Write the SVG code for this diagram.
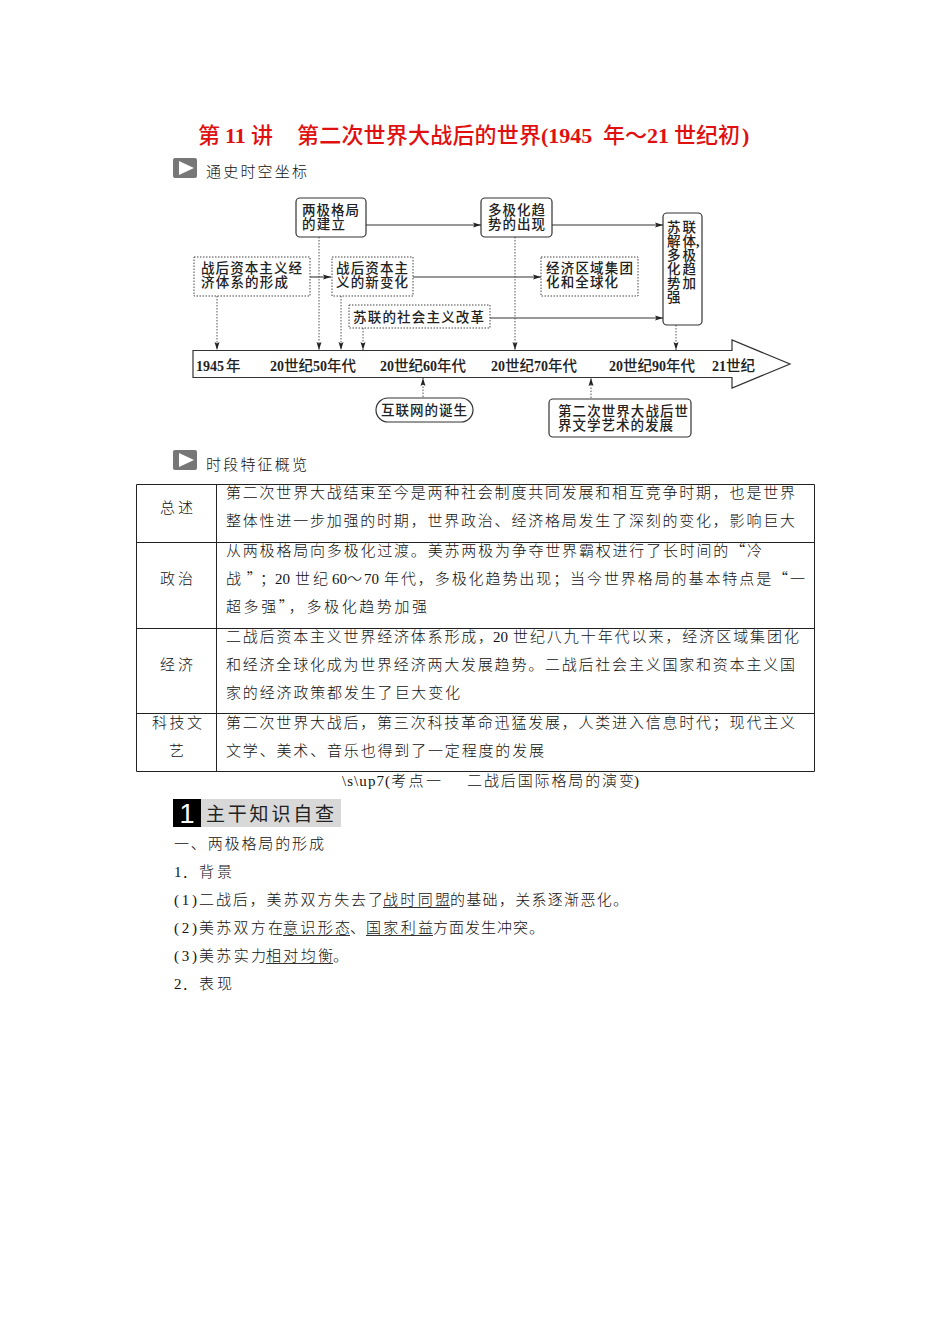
<svg xmlns="http://www.w3.org/2000/svg" width="950" height="1344" viewBox="0 0 950 1344">
<style>
text{font-family:"Noto Sans CJK SC",sans-serif;fill:#222}
.t{font-size:15px;font-weight:300;fill:#111}
.d{font-size:13.500px;font-weight:500;fill:#222}
.y{font-size:14.500px;font-weight:500;fill:#222}
.l{font-family:"Liberation Serif","Noto Sans CJK SC",serif}
.dl{font-family:"Liberation Serif","Noto Sans CJK SC",serif;font-size:14px;font-weight:700;fill:#222}
.h{font-size:22px;font-weight:500;fill:#e01010}
.hl{font-family:"Liberation Serif","Noto Sans CJK SC",serif;font-size:22px;font-weight:700;fill:#e01010}
.box{fill:#fff;stroke:#333;stroke-width:1.2}
.dot{fill:#fff;stroke:#444;stroke-width:1;stroke-dasharray:1.5 1.5}
.solid{fill:none;stroke:#333;stroke-width:1.1}
.dash{fill:none;stroke:#555;stroke-width:1;stroke-dasharray:1.5 1.5}
.grid{stroke:#222;stroke-width:1;fill:none}
.u{stroke:#333;stroke-width:1}
</style>
<defs>
<marker id="a" markerWidth="9" markerHeight="6" refX="8" refY="3" orient="auto" markerUnits="userSpaceOnUse"><path d="M0 .5L8 3L0 5.500L1.500 3Z" fill="#222"/></marker>
</defs>
<rect width="950" height="1344" fill="#fff"/>
<g id="title">
<text class="h" x="198" y="143">第</text><text class="hl" x="225" y="143">11</text><text class="h" x="251" y="143">讲</text>
<text class="h" x="297" y="143" textLength="244">第二次世界大战后的世界</text>
<text class="hl" x="541" y="143">(1945</text>
<text class="h" x="603" y="143" textLength="44">年～</text>
<text class="hl" x="647" y="143">21</text>
<text class="h" x="674" y="143" textLength="66">世纪初</text>
<text class="hl" x="742" y="143">)</text>
</g>
<g id="head1"><rect x="173" y="158" width="24" height="20" rx="2" fill="#777"/><path d="M179 161L194 168L179 175Z" fill="#fff"/><text class="t" x="206" y="177" textLength="101">通史时空坐标</text></g>
<g id="connectors">
<path class="solid" marker-end="url(#a)" d="M366 225H481"/>
<path class="solid" marker-end="url(#a)" d="M552 225H663"/>
<path class="solid" marker-end="url(#a)" d="M310 277H331"/>
<path class="solid" marker-end="url(#a)" d="M413 277H541"/>
<path class="solid" marker-end="url(#a)" d="M490 318H663"/>
<path class="dash" marker-end="url(#a)" d="M217 296V350"/>
<path class="dash" marker-end="url(#a)" d="M319 237V350"/>
<path class="dash" marker-end="url(#a)" d="M341 296V350"/>
<path class="dash" marker-end="url(#a)" d="M363 328V350"/>
<path class="dash" marker-end="url(#a)" d="M515 237V350"/>
<path class="dash" marker-end="url(#a)" d="M676 325V350"/>
<path class="dash" marker-end="url(#a)" d="M423 397V378"/>
<path class="dash" marker-end="url(#a)" d="M591 398V378"/>
</g>
<g id="timeline"><path d="M193 350.500H732V340L790 364L732 388V377.500H193Z" fill="#fff" stroke="#333" stroke-width="1.200"/>
<text class="dl" x="196" y="371">1945</text><text class="y" x="226" y="371">年</text>
<text class="dl" x="270" y="371">20</text><text class="y" x="284" y="371">世纪</text><text class="dl" x="313" y="371">50</text><text class="y" x="327" y="371">年代</text>
<text class="dl" x="380" y="371">20</text><text class="y" x="394" y="371">世纪</text><text class="dl" x="423" y="371">60</text><text class="y" x="437" y="371">年代</text>
<text class="dl" x="491" y="371">20</text><text class="y" x="505" y="371">世纪</text><text class="dl" x="534" y="371">70</text><text class="y" x="548" y="371">年代</text>
<text class="dl" x="609" y="371">20</text><text class="y" x="623" y="371">世纪</text><text class="dl" x="652" y="371">90</text><text class="y" x="666" y="371">年代</text>
<text class="dl" x="712" y="371">21</text><text class="y" x="726" y="371">世纪</text></g>
<g id="n1"><rect class="box" x="296" y="198" width="70" height="39" rx="4"/><text class="d" x="302" y="215" textLength="57">两极格局</text><text class="d" x="302" y="229" textLength="43">的建立</text></g>
<g id="n2"><rect class="box" x="481" y="198" width="71" height="39" rx="4"/><text class="d" x="488" y="215" textLength="57">多极化趋</text><text class="d" x="488" y="229" textLength="57">势的出现</text></g>
<g id="n3"><rect class="box" x="663" y="213" width="39" height="112" rx="4"/><text class="d" x="667" y="232" textLength="29">苏联</text><text class="d" x="667" y="246" textLength="29">解体</text><text class="dl" x="696" y="246">,</text><text class="d" x="667" y="260" textLength="29">多极</text><text class="d" x="667" y="274" textLength="29">化趋</text><text class="d" x="667" y="288" textLength="29">势加</text><text class="d" x="667" y="302">强</text></g>
<g id="n4"><rect class="dot" x="194" y="257" width="116" height="39"/><text class="d" x="201" y="273" textLength="101">战后资本主义经</text><text class="d" x="201" y="287" textLength="87">济体系的形成</text></g>
<g id="n5"><rect class="dot" x="332" y="257" width="81" height="39"/><text class="d" x="336" y="273" textLength="72">战后资本主</text><text class="d" x="336" y="287" textLength="72">义的新变化</text></g>
<g id="n6"><rect class="dot" x="349" y="305" width="141" height="23"/><text class="d" x="353" y="322" textLength="131">苏联的社会主义改革</text></g>
<g id="n7"><rect class="dot" x="541" y="257" width="97" height="39"/><text class="d" x="546" y="273" textLength="87">经济区域集团</text><text class="d" x="546" y="287" textLength="72">化和全球化</text></g>
<g id="n8"><rect class="box" x="376" y="398" width="97" height="24" rx="12"/><text class="d" x="381" y="415" textLength="86">互联网的诞生</text></g>
<g id="n9"><rect class="box" x="549" y="399" width="142" height="38" rx="4"/><text class="d" x="558" y="416" textLength="130">第二次世界大战后世</text><text class="d" x="558" y="430" textLength="115">界文学艺术的发展</text></g>
<g id="head2"><rect x="173" y="450" width="24" height="20" rx="2" fill="#777"/><path d="M179 453L194 460L179 467Z" fill="#fff"/><text class="t" x="206" y="470" textLength="101">时段特征概览</text></g>
<g id="table">
<path class="grid" d="M136.500 484.500H814.500V771.500H136.500ZM216.500 484.500V771.500M136.500 542.500H814.500M136.500 628.500H814.500M136.500 713.500H814.500"/>
<text class="t" x="160" y="513" textLength="33">总述</text>
<text class="t" x="160" y="584" textLength="33">政治</text>
<text class="t" x="160" y="670" textLength="33">经济</text>
<text class="t" x="152" y="728" textLength="50">科技文</text>
<text class="t" x="169" y="756">艺</text>
<text class="t" x="226" y="498" textLength="569">第二次世界大战结束至今是两种社会制度共同发展和相互竞争时期，也是世界</text>
<text class="t" x="226" y="526" textLength="569">整体性进一步加强的时期，世界政治、经济格局发生了深刻的变化，影响巨大</text>
<text class="t" x="226" y="556" textLength="536">从两极格局向多极化过渡。美苏两极为争夺世界霸权进行了长时间的“冷</text>
<text class="t" x="226" y="584" textLength="49">战”；</text><text class="t l" x="275" y="584">20</text><text class="t" x="295" y="584" textLength="33">世纪</text><text class="t l" x="332" y="584">60</text><text class="t" x="347" y="584">～</text><text class="t l" x="364" y="584">70</text><text class="t" x="384" y="584" textLength="421">年代，多极化趋势出现；当今世界格局的基本特点是“一</text>
<text class="t" x="226" y="612" textLength="201">超多强”，多极化趋势加强</text>
<text class="t" x="226" y="642" textLength="267">二战后资本主义世界经济体系形成，</text><text class="t l" x="493" y="642">20</text><text class="t" x="513" y="642" textLength="286">世纪八九十年代以来，经济区域集团化</text>
<text class="t" x="226" y="670" textLength="569">和经济全球化成为世界经济两大发展趋势。二战后社会主义国家和资本主义国</text>
<text class="t" x="226" y="698" textLength="234">家的经济政策都发生了巨大变化</text>
<text class="t" x="226" y="728" textLength="569">第二次世界大战后，第三次科技革命迅猛发展，人类进入信息时代；现代主义</text>
<text class="t" x="226" y="756" textLength="318">文学、美术、音乐也得到了一定程度的发展</text>
</g>
<g id="caption"><text class="t l" x="342" y="786" textLength="48">\s\up7(</text><text class="t" x="391" y="786" textLength="50">考点一</text><text class="t" x="467" y="786" textLength="167">二战后国际格局的演变</text><text class="t l" x="634" y="786">)</text></g>
<g id="head3"><rect x="173" y="799" width="168" height="28" fill="#d8d8d8"/><rect x="173" y="799" width="28" height="28" fill="#000"/><text x="187" y="823" text-anchor="middle" font-size="27" style="fill:#fff;font-family:'Liberation Sans',sans-serif">1</text><text x="206" y="821" font-size="19" textLength="128">主干知识自查</text></g>
<g id="body">
<text class="t" x="174" y="849" textLength="150">一、两极格局的形成</text>
<text class="t l" x="174" y="877">1</text><text class="t" x="182" y="877">．</text><text class="t" x="199" y="877" textLength="33">背景</text>
<text class="t l" x="174" y="905" textLength="23">(1)</text><text class="t" x="199" y="905" textLength="184">二战后，美苏双方失去了</text><text class="t" x="383" y="905" textLength="67">战时同盟</text><text class="t" x="450" y="905" textLength="178">的基础，关系逐渐恶化。</text>
<text class="t l" x="174" y="933" textLength="23">(2)</text><text class="t" x="199" y="933" textLength="84">美苏双方在</text><text class="t" x="283" y="933" textLength="67">意识形态</text><text class="t" x="350" y="933">、</text><text class="t" x="366" y="933" textLength="67">国家利益</text><text class="t" x="433" y="933" textLength="111">方面发生冲突。</text>
<text class="t l" x="174" y="961" textLength="23">(3)</text><text class="t" x="199" y="961" textLength="67">美苏实力</text><text class="t" x="266" y="961" textLength="67">相对均衡</text><text class="t" x="333" y="961">。</text>
<text class="t l" x="174" y="989">2</text><text class="t" x="182" y="989">．</text><text class="t" x="199" y="989" textLength="33">表现</text>
<path class="u" d="M383 907.500H450M283 935.500H350M366 935.500H433M266 963.500H333"/>
</g>
</svg>
